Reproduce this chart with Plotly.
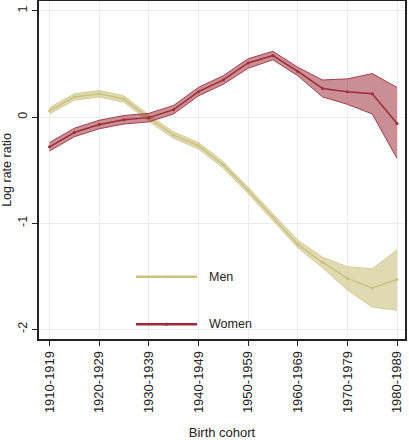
import plotly.graph_objects as go

cohorts = [1910, 1915, 1920, 1925, 1930, 1935, 1940, 1945, 1950, 1955, 1960, 1965, 1970, 1975, 1980]
tick_vals = [1910, 1920, 1930, 1940, 1950, 1960, 1970, 1980]
tick_labels = ["1910-1919", "1920-1929", "1930-1939", "1940-1949",
               "1950-1959", "1960-1969", "1970-1979", "1980-1989"]

men = [0.06, 0.19, 0.22, 0.17, -0.01, -0.17, -0.27, -0.45, -0.69, -0.94, -1.20, -1.37, -1.52, -1.61, -1.53]
men_lo = [0.03, 0.16, 0.19, 0.14, -0.04, -0.20, -0.30, -0.48, -0.72, -0.97, -1.23, -1.42, -1.63, -1.79, -1.82]
men_hi = [0.09, 0.22, 0.25, 0.20, 0.02, -0.14, -0.24, -0.42, -0.66, -0.91, -1.16, -1.32, -1.41, -1.43, -1.25]

women = [-0.28, -0.145, -0.07, -0.025, -0.005, 0.07, 0.24, 0.35, 0.51, 0.58, 0.43, 0.27, 0.24, 0.22, -0.06]
women_lo = [-0.32, -0.185, -0.11, -0.065, -0.045, 0.03, 0.20, 0.31, 0.46, 0.54, 0.39, 0.19, 0.12, 0.03, -0.39]
women_hi = [-0.24, -0.105, -0.03, 0.015, 0.035, 0.11, 0.28, 0.39, 0.55, 0.62, 0.47, 0.35, 0.36, 0.41, 0.28]

MEN_LINE = "#cbc27e"
MEN_FILL = "rgba(205,195,130,0.62)"
MEN_EDGE = "#d4cc94"
WOM_LINE = "#9b2d38"
WOM_FILL = "rgba(160,50,62,0.55)"
WOM_EDGE = "#a0404a"

fig = go.Figure()

# Men band + line
fig.add_trace(go.Scatter(x=cohorts, y=men_hi, mode="lines",
                         line=dict(color=MEN_EDGE, width=1), showlegend=False, hoverinfo="skip"))
fig.add_trace(go.Scatter(x=cohorts, y=men_lo, mode="lines", fill="tonexty", fillcolor=MEN_FILL,
                         line=dict(color=MEN_EDGE, width=1), showlegend=False, hoverinfo="skip"))
fig.add_trace(go.Scatter(x=cohorts, y=men, mode="lines+markers", name="Men",
                         line=dict(color=MEN_LINE, width=1.5),
                         marker=dict(size=3, color=MEN_LINE), showlegend=False))

# Women band + line
fig.add_trace(go.Scatter(x=cohorts, y=women_hi, mode="lines",
                         line=dict(color=WOM_EDGE, width=1), showlegend=False, hoverinfo="skip"))
fig.add_trace(go.Scatter(x=cohorts, y=women_lo, mode="lines", fill="tonexty", fillcolor=WOM_FILL,
                         line=dict(color=WOM_EDGE, width=1), showlegend=False, hoverinfo="skip"))
fig.add_trace(go.Scatter(x=cohorts, y=women, mode="lines+markers", name="Women",
                         line=dict(color=WOM_LINE, width=1.5),
                         marker=dict(size=3, color=WOM_LINE), showlegend=False))

# Manual legend (inside plot, no box)
legend_items = [("Men", MEN_LINE, 0.184), ("Women", WOM_LINE, 0.044)]
for name, col, yp in legend_items:
    fig.add_shape(type="line", xref="paper", yref="paper", x0=0.265, x1=0.432, y0=yp, y1=yp,
                  line=dict(color=col, width=2.5))
    fig.add_shape(type="circle", xref="paper", yref="paper",
                  x0=0.3485 - 0.004, x1=0.3485 + 0.004, y0=yp - 0.0045, y1=yp + 0.0045,
                  fillcolor=col, line=dict(color=col, width=0))
    fig.add_annotation(text=name, xref="paper", yref="paper", x=0.458, y=yp,
                       xanchor="left", yanchor="middle", showarrow=False,
                       font=dict(family="Liberation Sans, Arial", size=12.5, color="#222"))

fig.update_layout(
    width=409, height=440,
    margin=dict(l=39, r=4, t=1, b=101, autoexpand=False),
    plot_bgcolor="white", paper_bgcolor="white",
    font=dict(family="Liberation Sans, Arial", size=12, color="#222"),
    showlegend=False,
)
fig.update_xaxes(
    automargin=False,
    range=[1907.88, 1981.6], tickmode="array", tickvals=tick_vals, ticktext=tick_labels,
    tickangle=-90, ticks="outside", ticklen=5, tickcolor="#222", tickfont=dict(size=13),
    showline=True, linecolor="#222", linewidth=1.5, mirror=True,
    showgrid=True, gridcolor="#ececec", gridwidth=1, zeroline=False,
    title=dict(text="Birth cohort", font=dict(size=13), standoff=18),
)
fig.update_yaxes(
    automargin=False,
    range=[-2.091, 1.094], tickmode="array", tickvals=[-2, -1, 0, 1], ticktext=["-2", "-1", "0", "1"],
    tickangle=-90, ticks="outside", ticklen=5, tickcolor="#222", tickfont=dict(size=12.5),
    showline=True, linecolor="#222", linewidth=1.5, mirror=True,
    showgrid=True, gridcolor="#ececec", gridwidth=1, zeroline=False,
    title=dict(text="Log rate ratio", font=dict(size=12.5), standoff=4),
)

fig.write_html("out.html", config={"displayModeBar": False},
               post_script="document.body.style.margin='0';document.body.style.padding='0';")
